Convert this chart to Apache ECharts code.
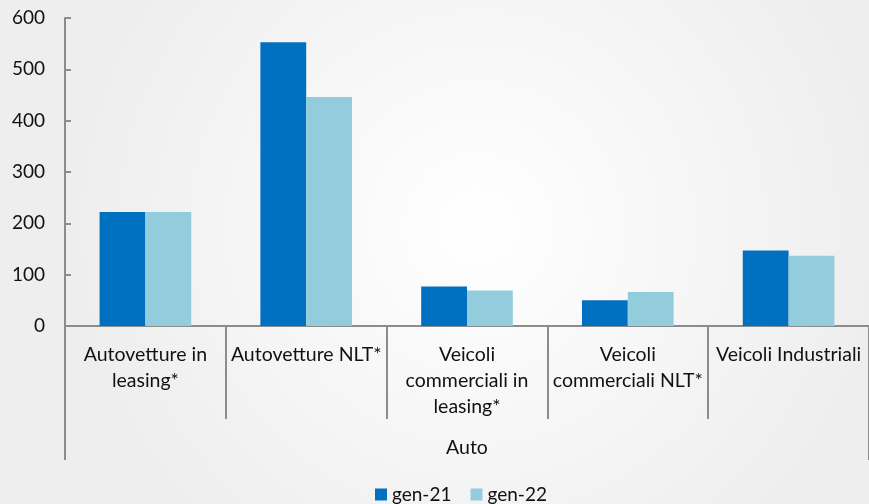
<!DOCTYPE html>
<html>
<head>
<meta charset="utf-8">
<script src="https://cdn.jsdelivr.net/npm/echarts@6/dist/echarts.min.js"></script>
<style>
  html, body { margin: 0; padding: 0; }
  #chart { width: 869px; height: 504px; }
</style>
</head>
<body>
<div id="chart"></div>
<script>
const categories = [
  "Autovetture in\nleasing*",
  "Autovetture NLT*",
  "Veicoli\ncommerciali in\nleasing*",
  "Veicoli\ncommerciali NLT*",
  "Veicoli Industriali"
];
const groupLabels = ["Auto"];
const gen21 = [222, 553, 77, 50, 147];
const gen22 = [222, 446, 69, 66, 137];
const yTicks = { min: 0, max: 600, interval: 100 };

const FONT = "Lato";
const AXIS_GRAY = "#8c8c8c";

const chart = echarts.init(document.getElementById("chart"));

chart.setOption({
  backgroundColor: {
    type: "radial", x: 0.55, y: 0.45, r: 0.8,
    colorStops: [
      { offset: 0, color: "#ffffff" },
      { offset: 1, color: "#eeeeee" }
    ]
  },
  textStyle: { fontFamily: FONT },
  grid: { left: 65, top: 18, width: 810, bottom: 178 },
  legend: {
    data: ["gen-21", "gen-22"],
    left: 370,
    top: 480,
    itemWidth: 12,
    itemHeight: 12,
    itemGap: 19,
    icon: "rect",
    textStyle: { fontFamily: FONT, fontSize: 19, color: "#111" }
  },
  xAxis: [
    {
      type: "category",
      data: categories,
      position: "bottom",
      axisLine: { lineStyle: { color: AXIS_GRAY, width: 2 } },
      axisTick: { show: true, interval: 0, length: 93, lineStyle: { color: AXIS_GRAY, width: 2 } },
      axisLabel: {
        interval: 0, margin: 16, color: "#111",
        fontFamily: FONT, fontSize: 19.5, lineHeight: 26
      }
    },
    {
      type: "category",
      data: groupLabels,
      position: "bottom",
      axisLine: { show: false },
      axisTick: { show: true, length: 134, lineStyle: { color: AXIS_GRAY, width: 2 } },
      axisLabel: { margin: 112, color: "#111", fontFamily: FONT, fontSize: 19.5 }
    }
  ],
  yAxis: {
    type: "value",
    min: yTicks.min,
    max: yTicks.max,
    interval: yTicks.interval,
    splitLine: { show: false },
    axisLine: { show: true, lineStyle: { color: AXIS_GRAY, width: 2 } },
    axisTick: { show: true, inside: true, length: 6, lineStyle: { color: AXIS_GRAY, width: 2 } },
    axisLabel: { margin: 20, color: "#111", fontFamily: FONT, fontSize: 19 }
  },
  series: [
    {
      name: "gen-21", type: "bar", xAxisIndex: 0, data: gen21,
      itemStyle: { color: "#0070C0" },
      barGap: "0%", barCategoryGap: "43%"
    },
    {
      name: "gen-22", type: "bar", xAxisIndex: 0, data: gen22,
      itemStyle: { color: "#93CDDD" },
      barGap: "0%", barCategoryGap: "43%"
    }
  ]
});
</script>
</body>
</html>
